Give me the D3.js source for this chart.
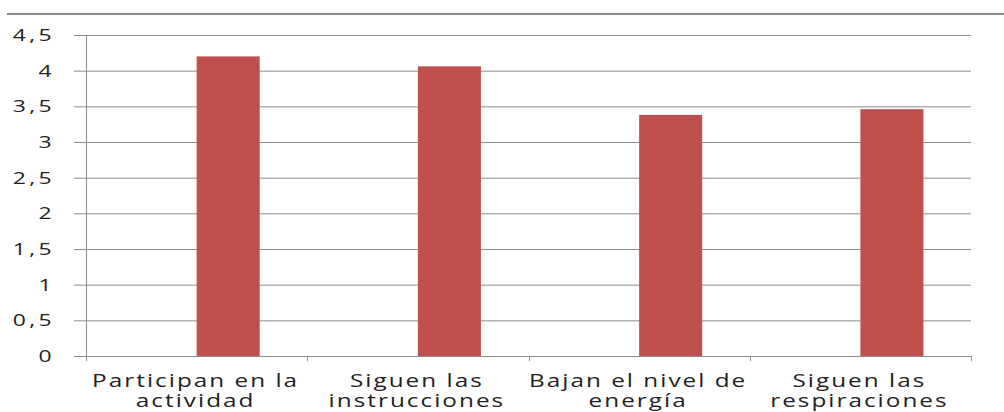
<!DOCTYPE html>
<html lang="es">
<head>
<meta charset="utf-8">
<title>Chart</title>
<style>
 body { margin: 0; background: #fff; }
 text { font-family: "Open Sans", "DejaVu Sans", sans-serif; fill: #222; }
</style>
</head>
<body>
<div id="plot"></div>
<script src="https://cdn.jsdelivr.net/npm/d3@7"></script>
<script>
 var categories = [["Participan en la", "actividad"],
                   ["Siguen las", "instrucciones"],
                   ["Bajan el nivel de", "energía"],
                   ["Siguen las", "respiraciones"]];
 var values = [4.2, 4.06, 3.38, 3.46];
 var yTicks = [0, 0.5, 1, 1.5, 2, 2.5, 3, 3.5, 4, 4.5];

 var width = 1004, height = 412,
     margin = {top: 35, right: 33, bottom: 56, left: 86},
     stretch = 1.35;   // the original text is drawn wide

 var svg = d3.select("#plot").append("svg")
             .attr("width", width).attr("height", height);

 // rule across the top of the page
 svg.append("line")
    .attr("x1", 7).attr("x2", width).attr("y1", 14).attr("y2", 14)
    .attr("stroke", "#8a8a8a").attr("stroke-width", 2);

 var x = d3.scaleBand()
           .domain(d3.range(categories.length))
           .range([margin.left, width - margin.right]);
 var y = d3.scaleLinear()
           .domain([0, 4.5])
           .range([height - margin.bottom, margin.top]);

 // gridlines + y ticks
 svg.append("g").selectAll("line").data(yTicks).enter().append("line")
    .attr("x1", margin.left - 12).attr("x2", width - margin.right)
    .attr("y1", d => y(d) + 0.5).attr("y2", d => y(d) + 0.5)
    .attr("stroke", "#8c8c8c").attr("stroke-width", 1);

 svg.append("g").selectAll("text").data(yTicks).enter().append("text")
    .attr("transform", d => "translate(55," + y(d) + ") scale(" + stretch + ",1)")
    .attr("dy", "0.36em")
    .attr("text-anchor", "end")
    .style("font-size", "17px")
    .style("letter-spacing", "2.5px")
    .text(d => d3.format(",")(d).replace(".", ","));

 // y axis line
 svg.append("line")
    .attr("x1", margin.left + 0.5).attr("x2", margin.left + 0.5)
    .attr("y1", margin.top).attr("y2", y(0) + 5)
    .attr("stroke", "#8c8c8c");

 // category ticks
 var edges = d3.range(categories.length + 1).map(i => margin.left + i * x.bandwidth());
 svg.append("g").selectAll("line").data(edges.slice(1)).enter().append("line")
    .attr("x1", d => Math.round(d) + 0.5).attr("x2", d => Math.round(d) + 0.5)
    .attr("y1", y(0)).attr("y2", y(0) + 5)
    .attr("stroke", "#8c8c8c");

 // bars (second slot of each category)
 svg.append("g").selectAll("rect").data(values).enter().append("rect")
    .attr("x", (d, i) => x(i) + x.bandwidth() / 2)
    .attr("width", x.bandwidth() * 0.285)
    .attr("y", d => y(d))
    .attr("height", d => y(0) - y(d))
    .attr("fill", "#c0504d");

 // category labels
 var lab = svg.append("g").selectAll("text").data(categories).enter().append("text")
    .attr("transform", (d, i) => "translate(" + (x(i) + x.bandwidth() / 2 - 1) + ",387) scale(" + stretch + ",1)")
    .attr("text-anchor", "middle")
    .style("font-size", "18px")
    .style("letter-spacing", "1.5px");
 lab.each(function (d) {
   var t = d3.select(this);
   d.forEach(function (line, j) {
     t.append("tspan")
      .attr("x", 0)
      .attr("y", j * 20.5)
      .text(line);
   });
 });
</script>
</body>
</html>
